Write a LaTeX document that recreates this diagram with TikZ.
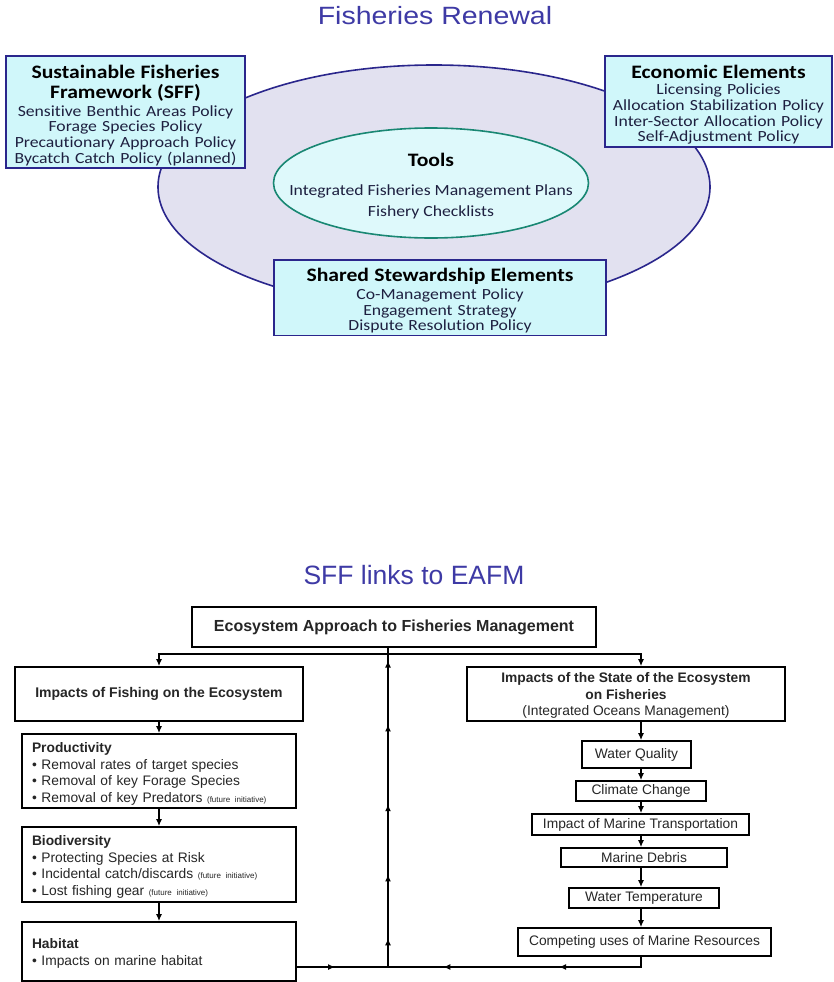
\documentclass[tikz,border=0pt]{standalone}
\usepackage{fontspec}
\newfontfamily\calfont[FakeStretch=1.14,Ligatures=NoCommon]{Carlito}
\newfontfamily\arialfont{Liberation Sans}
\newfontfamily\headfont[FakeStretch=1.14]{Liberation Sans}
\definecolor{frnavy}{RGB}{42,38,140}
\definecolor{frcyan}{RGB}{208,247,250}
\definecolor{frlilac}{RGB}{226,225,240}
\definecolor{frteal}{RGB}{25,135,115}
\definecolor{frtitle}{RGB}{62,58,165}
\definecolor{frtext}{RGB}{30,32,64}
\usetikzlibrary{arrows.meta,shapes.geometric,decorations.markings}
\newcommand\hdr{\fontsize{19}{20}\selectfont\bfseries\color{black}}
\newcommand\fut{\fontsize{8}{9}\selectfont}

\begin{document}
\begin{tikzpicture}[x=1pt,y=-1pt, every node/.style={inner sep=2pt},
  policybox/.style={draw=frnavy,line width=1.6pt,fill=frcyan,align=center,text=frtext,font=\calfont\fontsize{15.5}{15.7}\selectfont},
  fbox/.style={draw,line width=1.6pt,fill=white,text=black!85,font=\arialfont\fontsize{13.8}{16.4}\selectfont},
  flow/.style={line width=1.6pt,-{Latex[length=7pt,width=6pt]}},
  feedback/.style={line width=1.6pt,postaction={decorate}}]
\path[use as bounding box,fill=white] (0,0) rectangle (833,982);

% Fisheries Renewal
\node[font=\headfont\fontsize{25}{25}\selectfont,text=frtitle] (rtitle) at (435,16) {Fisheries Renewal};
\node[ellipse,draw=frnavy,line width=1.6pt,fill=frlilac,minimum width=552,minimum height=244] (renewal) at (434,187) {};
\node[ellipse,draw=frteal,line width=1.6pt,fill=frcyan!70!white,minimum width=315,minimum height=110] (tools) at (431,183) {};
\node[align=center,text=frtext,font=\calfont\fontsize{15.5}{15.7}\selectfont] (toolstext) at (tools) {{\hdr\rule{0pt}{20pt}Tools}\\[13pt]Integrated Fisheries Management Plans\\[6pt]Fishery Checklists};
\node[policybox,text width=235pt,minimum height=112] (sff) at (125.5,112) {{\hdr\rule{0pt}{20pt}Sustainable Fisheries}\\[4.3pt]{\hdr Framework (SFF)}\\[2.3pt]Sensitive Benthic Areas Policy\\Forage Species Policy\\Precautionary Approach Policy\\Bycatch Catch Policy (planned)};
\node[policybox,text width=223pt,minimum height=91] (econ) at (718.5,101.5) {{\hdr\rule{0pt}{20pt}Economic Elements}\\[0.3pt]Licensing Policies\\Allocation Stabilization Policy\\Inter-Sector Allocation Policy\\Self-Adjustment Policy};
\node[policybox,text width=328pt,minimum height=75] (shared) at (440,297.5) {{\hdr\rule{0pt}{20pt}Shared Stewardship Elements}\\[2pt]Co-Management Policy\\Engagement Strategy\\Dispute Resolution Policy};

% SFF links to EAFM
\node[font=\arialfont\fontsize{26.5}{26.5}\selectfont,text=frtitle] (ltitle) at (414,575) {SFF links to EAFM};
\node[fbox,font=\arialfont\bfseries\fontsize{16}{18}\selectfont,minimum width=404,minimum height=40] (eafm) at (394,627) {Ecosystem Approach to Fisheries Management};
\node[fbox,font=\arialfont\bfseries\fontsize{14}{16.5}\selectfont,minimum width=288,minimum height=54] (fimpact) at (159,694) {Impacts of Fishing on the Ecosystem};
\node[fbox,align=center,minimum width=318,minimum height=54] (sstate) at (626,694) {\bfseries\rule{0pt}{13pt}Impacts of the State of the Ecosystem\\\bfseries on Fisheries\\(Integrated Oceans Management)};
\node[fbox,text width=254pt,align=left,inner xsep=10pt,minimum height=74] (prod) at (159,771) {\rule{0pt}{16pt}\textbf{Productivity}\\• Removal rates of target species\\• Removal of key Forage Species\\• Removal of key Predators {\fut(future initiative)}};
\node[fbox,text width=254pt,align=left,inner xsep=10pt,minimum height=75] (biodiv) at (159,864.5) {\rule{0pt}{15pt}\textbf{Biodiversity}\\• Protecting Species at Risk\\• Incidental catch/discards {\fut(future initiative)}\\• Lost fishing gear {\fut(future initiative)}};
\node[fbox,text width=254pt,align=left,inner xsep=10pt,minimum height=59] (habitat) at (159,951.5) {\rule{0pt}{14pt}\textbf{Habitat}\\• Impacts on marine habitat};
\node[fbox,minimum width=109,minimum height=27] (wquality) at (636.5,754.5) {Water Quality};
\node[fbox,minimum width=130,minimum height=20] (climate) at (641,791) {Climate Change};
\node[fbox,minimum width=217,minimum height=21] (transport) at (640.5,824.5) {Impact of Marine Transportation};
\node[fbox,minimum width=166,minimum height=19] (debris) at (644,857.5) {Marine Debris};
\node[fbox,minimum width=150,minimum height=20] (wtemp) at (644,898) {Water Temperature};
\node[fbox,minimum width=253,minimum height=28] (cuses) at (644.5,942) {Competing uses of Marine Resources};

\coordinate (hub) at (388,654);
\coordinate (rspine) at (641,654);
\coordinate (junction) at (388,967);

\draw[flow] (hub) -| (fimpact.north);
\draw[flow] (hub) -| (sstate.north -| rspine);
\draw[flow] (fimpact) -- (prod);
\draw[flow] (prod) -- (biodiv);
\draw[flow] (biodiv) -- (habitat);
\draw[flow] (sstate.south -| rspine) -- (wquality.north -| rspine);
\draw[flow] (wquality.south -| rspine) -- (climate.north -| rspine);
\draw[flow] (climate.south -| rspine) -- (transport.north -| rspine);
\draw[flow] (transport.south -| rspine) -- (debris.north -| rspine);
\draw[flow] (debris.south -| rspine) -- (wtemp.north -| rspine);
\draw[flow] (wtemp.south -| rspine) -- (cuses.north -| rspine);
% feedback to the top box
\draw[feedback,decoration={markings,
  mark=at position 0.09 with {\arrow{Latex[length=7pt,width=6pt]}},
  mark=at position 0.29 with {\arrow{Latex[length=7pt,width=6pt]}},
  mark=at position 0.51 with {\arrow{Latex[length=7pt,width=6pt]}},
  mark=at position 0.76 with {\arrow{Latex[length=7pt,width=6pt]}},
  mark=at position 0.96 with {\arrow{Latex[length=7pt,width=6pt]}}}] (junction) -- (eafm.south -| junction);
\draw[feedback,decoration={markings,
  mark=at position 0.35 with {\arrow{Latex[length=7pt,width=6pt]}},
  mark=at position 0.79 with {\arrow{Latex[length=7pt,width=6pt]}}}] (cuses.south -| rspine) |- (junction);
\draw[feedback,decoration={markings,
  mark=at position 0.42 with {\arrow{Latex[length=7pt,width=6pt]}}}] (habitat.east |- junction) -- (junction);
\end{tikzpicture}
\end{document}
